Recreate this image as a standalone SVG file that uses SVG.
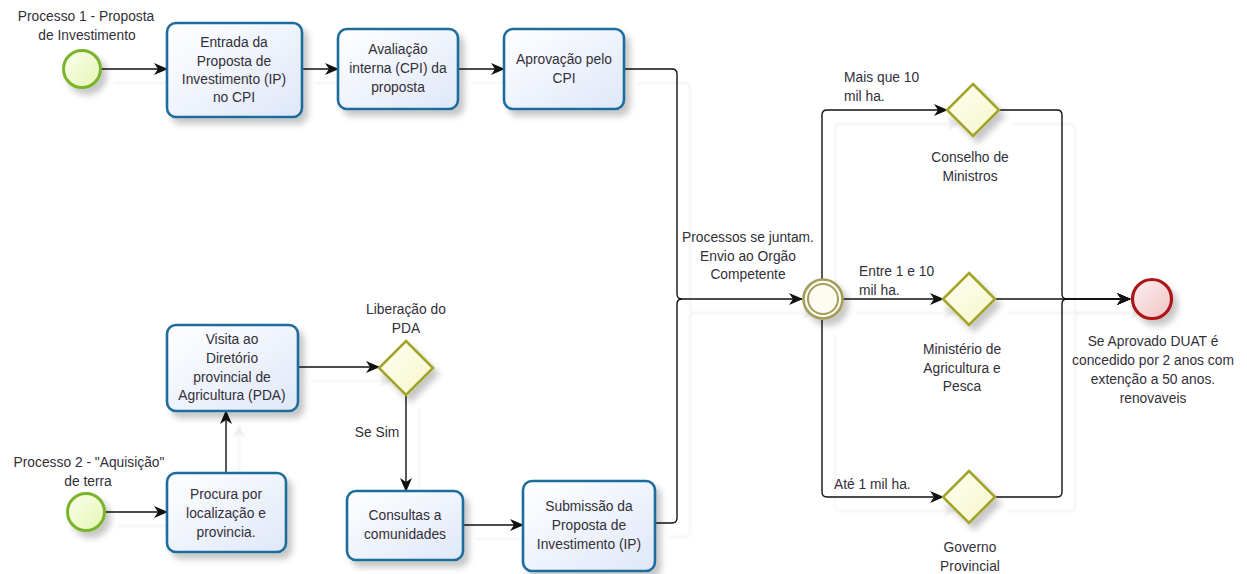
<svg xmlns="http://www.w3.org/2000/svg" xmlns:xlink="http://www.w3.org/1999/xlink" width="1247" height="574" viewBox="0 0 1247 574">
  <style>
    text { font-family: "Liberation Sans", Arial, sans-serif; font-size: 13.8px; fill: #322f38; }
    .c { text-anchor: middle; }
    .task { fill: url(#taskFill); stroke: #1f6d9c; stroke-width: 2.6; filter: url(#shadow); }
    .start { fill: url(#startFill); stroke: #78b52c; stroke-width: 3; filter: url(#shadow); }
    .gw { fill: url(#gwFill); stroke: #a2a42a; stroke-width: 2.6; filter: url(#shadow); }
    .flow { fill: none; stroke: #111; stroke-width: 1.4; marker-end: url(#arrow); }
    .flow-plain { fill: none; stroke: #111; stroke-width: 1.4; }
  </style>
  <defs>
    <linearGradient id="taskFill" x1="0" y1="0" x2="1" y2="1">
      <stop offset="0" stop-color="#ffffff"/>
      <stop offset="1" stop-color="#dfe7f8"/>
    </linearGradient>
    <linearGradient id="startFill" x1="0" y1="0" x2="1" y2="1">
      <stop offset="0" stop-color="#fbfef0"/>
      <stop offset="1" stop-color="#e6f6b0"/>
    </linearGradient>
    <linearGradient id="gwFill" x1="0" y1="0" x2="1" y2="1">
      <stop offset="0" stop-color="#fffff2"/>
      <stop offset="1" stop-color="#f6f6cc"/>
    </linearGradient>
    <linearGradient id="endFill" x1="0" y1="0" x2="1" y2="1">
      <stop offset="0" stop-color="#fdf0f0"/>
      <stop offset="1" stop-color="#f0c2c4"/>
    </linearGradient>
    <filter id="shadow" x="-30%" y="-30%" width="180%" height="180%">
      <feDropShadow dx="5" dy="6" stdDeviation="3" flood-color="#000" flood-opacity="0.22"/>
    </filter>
    <filter id="soft" x="-5%" y="-5%" width="110%" height="110%">
      <feGaussianBlur stdDeviation="1.2"/>
    </filter>
    <marker id="arrow" viewBox="0 0 14 12" refX="13" refY="6" markerWidth="14" markerHeight="12" markerUnits="userSpaceOnUse" orient="auto">
      <path d="M0,0 L14,6 L0,12 L4,6 z" fill="#111"/>
    </marker>
  </defs>

  <rect width="1247" height="574" fill="#ffffff"/>

  <!-- faint cast shadow of the sequence flows -->
  <use xlink:href="#connectors" transform="translate(13,14)" opacity="0.07" filter="url(#soft)"/>

  <g id="connectors">
    <path class="flow" d="M101 69 L167 69"/>
    <path class="flow" d="M302 69 L338 69"/>
    <path class="flow" d="M458 69 L504 69"/>
    <path class="flow" d="M624 69 L672 69 Q677 69 677 74 L677 294 Q677 299 682 299 L802 299"/>
    <path class="flow-plain" d="M655 523 L672 523 Q677 523 677 518 L677 304 Q677 299 682 299"/>
    <path class="flow" d="M105 512 L167 512"/>
    <path class="flow" d="M226 473 L226 411"/>
    <path class="flow" d="M298 367 L379 367"/>
    <path class="flow" d="M406 394 L406 491"/>
    <path class="flow" d="M463 525 L523 525"/>
    <path class="flow" d="M822 279 L822 115 Q822 110 827 110 L947 110"/>
    <path class="flow" d="M843 299 L943 299"/>
    <path class="flow" d="M822 320 L822 492 Q822 497 827 497 L943 497"/>
    <path class="flow" d="M999 110 L1057 110 Q1062 110 1062 115 L1062 294 Q1062 299 1067 299 L1130 299"/>
    <path class="flow" d="M995 299 L1130 299"/>
    <path class="flow" d="M995 497 L1057 497 Q1062 497 1062 492 L1062 304 Q1062 299 1067 299 L1130 299"/>
  </g>

  <!-- flow labels -->
  <g id="flow-labels">
    <text x="844" y="82">Mais que 10</text>
    <text x="844" y="101">mil ha.</text>
    <text x="859" y="276">Entre 1 e 10</text>
    <text x="859" y="295">mil ha.</text>
    <text x="834" y="489">Até 1 mil ha.</text>
    <text x="377" y="437" class="c">Se Sim</text>
  </g>

  <g id="start1">
    <circle class="start" cx="82" cy="69" r="18.5"/>
    <text x="86" y="21" class="c">Processo 1 - Proposta</text>
    <text x="87" y="40" class="c">de Investimento</text>
  </g>

  <g id="task-entrada">
    <rect class="task" x="167" y="23" width="135" height="94" rx="9"/>
    <text x="234" y="47" class="c">Entrada da</text>
    <text x="234" y="66" class="c">Proposta de</text>
    <text x="234" y="84" class="c">Investimento (IP)</text>
    <text x="234" y="102" class="c">no CPI</text>
  </g>

  <g id="task-avaliacao">
    <rect class="task" x="338" y="29" width="120" height="80" rx="9"/>
    <text x="398" y="54" class="c">Avaliação</text>
    <text x="398" y="73" class="c">interna (CPI) da</text>
    <text x="398" y="92" class="c">proposta</text>
  </g>

  <g id="task-aprovacao">
    <rect class="task" x="504" y="29" width="120" height="80" rx="9"/>
    <text x="564" y="64" class="c">Aprovação pelo</text>
    <text x="564" y="83" class="c">CPI</text>
  </g>

  <g id="start2">
    <circle class="start" cx="86" cy="512" r="18.5"/>
    <text x="89" y="467" class="c">Processo 2 - "Aquisição"</text>
    <text x="88" y="486" class="c">de terra</text>
  </g>

  <g id="task-procura">
    <rect class="task" x="167" y="473" width="119" height="79" rx="9"/>
    <text x="226" y="499" class="c">Procura por</text>
    <text x="226" y="518" class="c">localização e</text>
    <text x="226" y="537" class="c">provincia.</text>
  </g>

  <g id="task-visita">
    <rect class="task" x="167" y="325" width="131" height="86" rx="9"/>
    <text x="232" y="344" class="c">Visita ao</text>
    <text x="232" y="363" class="c">Diretório</text>
    <text x="232" y="382" class="c">provincial de</text>
    <text x="232" y="400" class="c">Agricultura (PDA)</text>
  </g>

  <g id="gw-pda">
    <path class="gw" d="M406 341 L433 368 L406 395 L379 368 Z"/>
    <text x="406" y="314" class="c">Liberação do</text>
    <text x="406" y="333" class="c">PDA</text>
  </g>

  <g id="task-consultas">
    <rect class="task" x="347" y="491" width="116" height="69" rx="9"/>
    <text x="405" y="520" class="c">Consultas a</text>
    <text x="405" y="539" class="c">comunidades</text>
  </g>

  <g id="task-submissao">
    <rect class="task" x="523" y="481" width="132" height="90" rx="9"/>
    <text x="589" y="511" class="c">Submissão da</text>
    <text x="589" y="530" class="c">Proposta de</text>
    <text x="589" y="549" class="c">Investimento (IP)</text>
  </g>

  <g id="merge-event">
    <circle cx="823" cy="299" r="19.5" fill="#fdfbf2" stroke="#a39d5a" stroke-width="2.6" filter="url(#shadow)"/>
    <circle cx="823" cy="299" r="15" fill="none" stroke="#a39d5a" stroke-width="2"/>
    <text x="748" y="242" class="c">Processos se juntam.</text>
    <text x="748" y="261" class="c">Envio ao Orgão</text>
    <text x="748" y="279" class="c">Competente</text>
  </g>

  <g id="gw-conselho">
    <path class="gw" d="M973 84 L999 110 L973 136 L947 110 Z"/>
    <text x="970" y="162" class="c">Conselho de</text>
    <text x="970" y="181" class="c">Ministros</text>
  </g>

  <g id="gw-ministerio">
    <path class="gw" d="M969 273 L995 299 L969 325 L943 299 Z"/>
    <text x="962" y="354" class="c">Ministério de</text>
    <text x="962" y="373" class="c">Agricultura e</text>
    <text x="962" y="391" class="c">Pesca</text>
  </g>

  <g id="gw-governo">
    <path class="gw" d="M969 471 L995 497 L969 523 L943 497 Z"/>
    <text x="970" y="552" class="c">Governo</text>
    <text x="970" y="571" class="c">Provincial</text>
  </g>

  <g id="end-event">
    <circle cx="1152" cy="299" r="19.5" fill="url(#endFill)" stroke="#ad1518" stroke-width="3.2" filter="url(#shadow)"/>
    <text x="1153" y="346" class="c">Se Aprovado DUAT é</text>
    <text x="1153" y="365" class="c">concedido por 2 anos com</text>
    <text x="1153" y="384" class="c">extenção a 50 anos.</text>
    <text x="1153" y="403" class="c">renovaveis</text>
  </g>
</svg>
